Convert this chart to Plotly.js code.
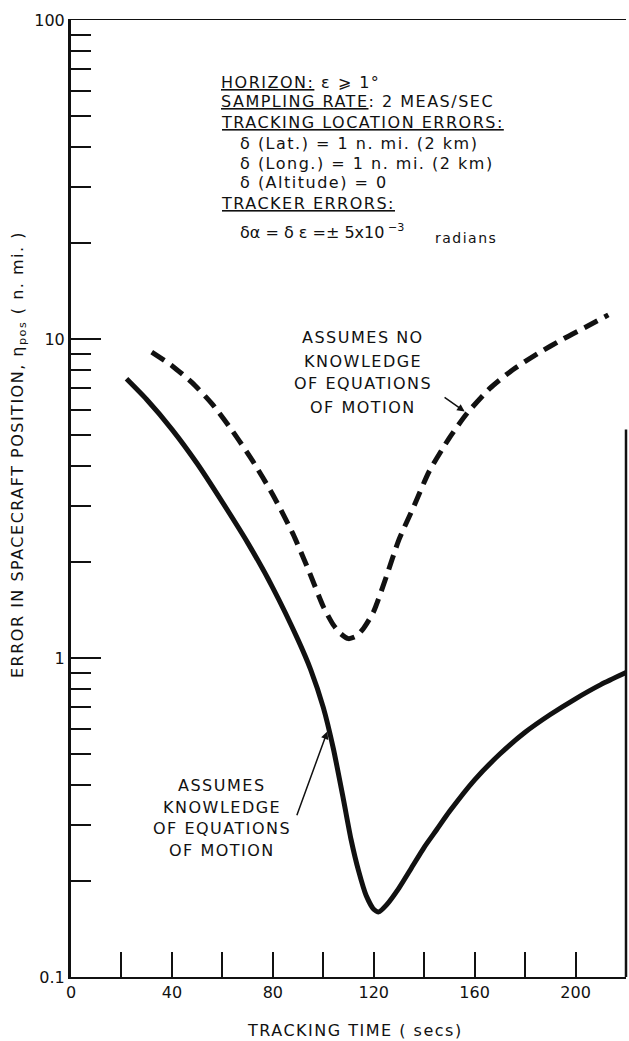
<!DOCTYPE html>
<html>
<head>
<meta charset="utf-8">
<script src="https://cdn.plot.ly/plotly-3.0.1.min.js"></script>
<style>
  html, body { margin: 0; padding: 0; background: #fff; }
  #chart { width: 629px; height: 1041px; }
</style>
</head>
<body>
<div id="chart"></div>
<script>
// Tracking time (s) and position error (n. mi.) — with equations of motion
const timeWithEom  = [22, 30, 40, 50, 60, 70, 80, 90, 95, 100, 104, 108, 111, 114, 117, 120, 122, 125, 130, 135, 140, 145, 150, 160, 170, 180, 190, 200, 210, 220];
const errorWithEom = [7.5, 6.46, 5.21, 4.07, 3.08, 2.3, 1.66, 1.14, 0.92, 0.7, 0.52, 0.36, 0.27, 0.215, 0.18, 0.163, 0.16, 0.168, 0.19, 0.22, 0.255, 0.29, 0.33, 0.415, 0.5, 0.585, 0.665, 0.745, 0.825, 0.9];

// Without equations of motion
const timeNoEom  = [32, 40, 48, 56, 64, 72, 80, 88, 94, 100, 104, 107, 110, 113, 116, 120, 125, 130, 136, 142, 150, 157, 166, 175, 185, 195, 205, 213];
const errorNoEom = [9.1, 8.25, 7.3, 6.25, 5.15, 4.15, 3.25, 2.45, 1.9, 1.45, 1.27, 1.19, 1.15, 1.17, 1.24, 1.4, 1.8, 2.35, 3.0, 3.85, 4.9, 5.85, 7.0, 8.0, 9.0, 10.0, 11.0, 11.9];

// Axis ticks
const xTickVals   = [0, 20, 40, 60, 80, 100, 120, 140, 160, 180, 200];
const xTickText   = ['0', '', '40', '', '80', '', '120', '', '160', '', '200'];
const yMajorVals  = [0.1, 1, 10, 100];
const yMajorText  = ['0.1', '1', '10', '100'];
const yMinorVals  = [0.2, 0.3, 0.4, 0.5, 0.6, 0.7, 0.8, 0.9,
                     2, 3, 4, 5, 6, 7, 8, 9,
                     20, 30, 40, 50, 60, 70, 80, 90];

// Condition notes
const noteLines = [
  '<u>HORIZON:</u> ε ⩾ 1°',
  '<u>SAMPLING RATE</u>: 2 MEAS/SEC',
  '<u>TRACKING LOCATION ERRORS:</u>',
  'δ (Lat.) = 1 n. mi. (2 km)',
  'δ (Long.) = 1 n. mi. (2 km)',
  'δ (Altitude) = 0',
  '<u>TRACKER ERRORS:</u>'
];
const noteIndent = [false, false, false, true, true, true, false];
const trackerLine = 'δα = δ ε =± 5x10<sup> −3</sup>';
const labelNoEom = ['ASSUMES NO', 'KNOWLEDGE', 'OF EQUATIONS', 'OF MOTION'];
const labelEom   = ['ASSUMES', 'KNOWLEDGE', 'OF EQUATIONS', 'OF MOTION'];

const FONT = 'DejaVu Sans, Arial, sans-serif';
const INK = '#111';
// wide, airy lettering
const spaced = s => '<span style="letter-spacing:1.5px">' + s + '</span>';

const W = 629, H = 1041;
const M = { l: 71, r: 3, t: 20, b: 64 };
const pw = W - M.l - M.r, ph = H - M.t - M.b;
// pixel -> paper helpers for text placement
const px = v => (v - M.l) / pw;
const py = v => (H - M.b - v) / ph;

const traces = [
  {
    x: timeWithEom, y: errorWithEom, type: 'scatter', mode: 'lines',
    line: { color: INK, width: 5, shape: 'spline', smoothing: 0.6 },
    hoverinfo: 'skip'
  },
  {
    x: timeNoEom, y: errorNoEom, type: 'scatter', mode: 'lines',
    line: { color: INK, width: 5, dash: '15px,8px', shape: 'spline', smoothing: 0.6 },
    hoverinfo: 'skip'
  }
];

const annotations = [];
const noteY = [82, 102, 122, 143, 163, 183, 204];
noteLines.forEach((t, i) => {
  annotations.push({
    xref: 'paper', yref: 'paper', x: px(noteIndent[i] ? 238 : 219), y: py(noteY[i]),
    xanchor: 'left', yanchor: 'middle', showarrow: false, text: spaced(t),
    font: { family: FONT, size: 16, color: INK }
  });
});
annotations.push({
  xref: 'paper', yref: 'paper', x: px(238), y: py(231),
  xanchor: 'left', yanchor: 'middle', showarrow: false, text: trackerLine,
  font: { family: FONT, size: 16, color: INK }
});
annotations.push({
  xref: 'paper', yref: 'paper', x: px(433), y: py(238),
  xanchor: 'left', yanchor: 'middle', showarrow: false, text: spaced('radians'),
  font: { family: FONT, size: 14, color: INK }
});

const noEomY = [338, 361, 384, 407];
labelNoEom.forEach((t, i) => {
  annotations.push({
    xref: 'paper', yref: 'paper', x: px(363), y: py(noEomY[i]),
    xanchor: 'center', yanchor: 'middle', showarrow: false, text: spaced(t),
    font: { family: FONT, size: 16, color: INK }
  });
});
const eomY = [785, 807, 828, 850];
labelEom.forEach((t, i) => {
  annotations.push({
    xref: 'paper', yref: 'paper', x: px(222), y: py(eomY[i]),
    xanchor: 'center', yanchor: 'middle', showarrow: false, text: spaced(t),
    font: { family: FONT, size: 16, color: INK }
  });
});

// leader arrows pointing at each curve
annotations.push({
  x: 157, y: Math.log10(5.85), xref: 'x', yref: 'y', text: '',
  showarrow: true, arrowhead: 2, arrowsize: 1, arrowwidth: 1.5, arrowcolor: INK,
  ax: -24, ay: -17, standoff: 3
});
annotations.push({
  x: 102, y: Math.log10(0.6), xref: 'x', yref: 'y', text: '',
  showarrow: true, arrowhead: 2, arrowsize: 1, arrowwidth: 1.5, arrowcolor: INK,
  ax: -32, ay: 88, standoff: 3
});

// axis titles
annotations.push({
  xref: 'paper', yref: 'paper', x: px(18), y: py(455),
  xanchor: 'center', yanchor: 'middle', showarrow: false, textangle: -90,
  text: spaced('ERROR IN SPACECRAFT POSITION, η<sub>pos</sub> ( n. mi. )'),
  font: { family: FONT, size: 16, color: INK }
});
annotations.push({
  xref: 'paper', yref: 'paper', x: px(355), y: py(1030),
  xanchor: 'center', yanchor: 'middle', showarrow: false,
  text: spaced('TRACKING TIME ( secs)'),
  font: { family: FONT, size: 16, color: INK }
});

const layout = {
  width: W, height: H,
  margin: M,
  paper_bgcolor: '#fff', plot_bgcolor: '#fff',
  showlegend: false,
  font: { family: FONT, size: 14, color: INK },
  xaxis: {
    range: [0, 220], showgrid: false, zeroline: false,
    showline: true, linecolor: INK, linewidth: 1.5, mirror: true,
    tickmode: 'array', tickvals: xTickVals, ticktext: xTickText,
    ticks: 'inside', ticklen: 25, tickwidth: 2, tickcolor: INK,
    tickfont: { family: FONT, size: 16, color: INK }
  },
  yaxis: {
    type: 'log', range: [-1, 2], showgrid: false, zeroline: false,
    showline: true, linecolor: INK, linewidth: 3,
    tickmode: 'array', tickvals: yMajorVals, ticktext: yMajorText,
    ticks: 'inside', ticklen: 30, tickwidth: 2, tickcolor: INK,
    tickfont: { family: FONT, size: 16, color: INK },
    minor: { tickmode: 'array', tickvals: yMinorVals, ticks: 'inside', ticklen: 20, tickwidth: 2, tickcolor: INK, showgrid: false }
  },
  shapes: [
    // partial right-hand frame edge
    { type: 'line', xref: 'paper', yref: 'y', x0: 1, x1: 1, y0: 5.2, y1: 0.1,
      line: { color: INK, width: 2.5 } }
  ],
  annotations: annotations
};

Plotly.newPlot('chart', traces, layout, { staticPlot: true, displayModeBar: false });
</script>
</body>
</html>
